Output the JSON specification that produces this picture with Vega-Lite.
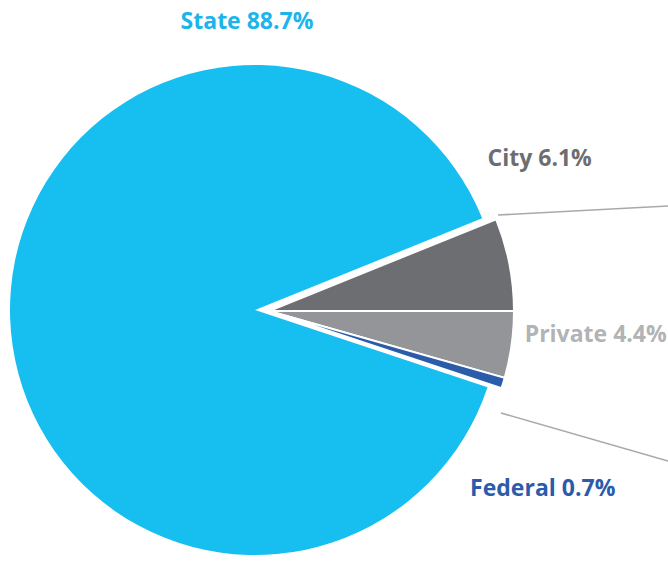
{
  "$schema": "https://vega.github.io/schema/vega-lite/v6.json",
  "width": 510,
  "height": 504,
  "autosize": "none",
  "padding": {"left": 0, "top": 58, "right": 158, "bottom": 0},
  "background": "white",
  "config": {"view": {"stroke": null}},
  "datasets": {
    "shares": [
      {"category": "City", "share": 6.1, "ord": 1, "label": "City 6.1%"},
      {"category": "Private", "share": 4.4, "ord": 2, "label": "Private 4.4%"},
      {"category": "Federal", "share": 0.7, "ord": 3, "label": "Federal 0.7%"},
      {"category": "State", "share": 88.7, "ord": 4, "label": "State 88.7%"}
    ],
    "leaders": [
      {"slice": "City", "x1": 498, "y1": 157, "x2": 668, "y2": 148},
      {"slice": "Federal", "x1": 501, "y1": 355, "x2": 668, "y2": 403}
    ]
  },
  "data": {"name": "shares"},
  "encoding": {
    "theta": {"field": "share", "type": "quantitative", "stack": true, "scale": {"range": [1.187, 7.4702]}},
    "order": {"field": "ord", "type": "quantitative"}
  },
  "layer": [
    {
      "mark": {"type": "arc", "outerRadius": 245},
      "encoding": {
        "color": {"field": "category", "type": "nominal", "legend": null,
          "scale": {"domain": ["City", "Private", "Federal", "State"], "range": ["#6D6E71", "#939598", "#2A5CAA", "#17BEF0"]}},
        "opacity": {"condition": {"test": "datum.category === 'State'", "value": 1}, "value": 0}
      }
    },
    {
      "mark": {"type": "arc", "outerRadius": 245, "xOffset": 14, "yOffset": 1, "stroke": "white", "strokeWidth": 2},
      "encoding": {
        "color": {"field": "category", "type": "nominal", "legend": null},
        "opacity": {"condition": {"test": "datum.category !== 'State'", "value": 1}, "value": 0}
      }
    },
    {
      "mark": {"type": "text", "font": "Open Sans", "fontWeight": "bold", "fontSize": 23, "align": "center", "baseline": "alphabetic", "color": "#19B5EC", "dx": -8, "dy": -281},
      "encoding": {
        "radius": {"value": 0},
        "text": {"field": "label"},
        "opacity": {"condition": {"test": "datum.category === 'State'", "value": 1}, "value": 0}
      }
    },
    {
      "mark": {"type": "text", "font": "Open Sans", "fontWeight": "bold", "fontSize": 23, "align": "center", "baseline": "alphabetic", "color": "#6D6E71", "dx": 0, "dy": -89},
      "encoding": {
        "radius": {"value": 290},
        "text": {"field": "label"},
        "opacity": {"condition": {"test": "datum.category === 'City'", "value": 1}, "value": 0}
      }
    },
    {
      "mark": {"type": "text", "font": "Open Sans", "fontWeight": "bold", "fontSize": 23, "align": "center", "baseline": "alphabetic", "color": "#B1B3B5", "dx": -1, "dy": -16},
      "encoding": {
        "radius": {"value": 345},
        "text": {"field": "label"},
        "opacity": {"condition": {"test": "datum.category === 'Private'", "value": 1}, "value": 0}
      }
    },
    {
      "mark": {"type": "text", "font": "Open Sans", "fontWeight": "bold", "fontSize": 23, "align": "center", "baseline": "alphabetic", "color": "#2B5BAA", "dx": 1, "dy": 98},
      "encoding": {
        "radius": {"value": 300},
        "text": {"field": "label"},
        "opacity": {"condition": {"test": "datum.category === 'Federal'", "value": 1}, "value": 0}
      }
    },
    {
      "data": {"name": "leaders"},
      "mark": {"type": "rule", "color": "#A7A9AC", "strokeWidth": 1.6},
      "encoding": {
        "theta": null,
        "order": null,
        "x": {"field": "x1", "type": "quantitative", "axis": null, "scale": {"domain": [0, 510], "nice": false, "zero": false}},
        "y": {"field": "y1", "type": "quantitative", "axis": null, "scale": {"domain": [0, 504], "nice": false, "zero": false, "reverse": true}},
        "x2": {"field": "x2"},
        "y2": {"field": "y2"}
      }
    }
  ]
}
